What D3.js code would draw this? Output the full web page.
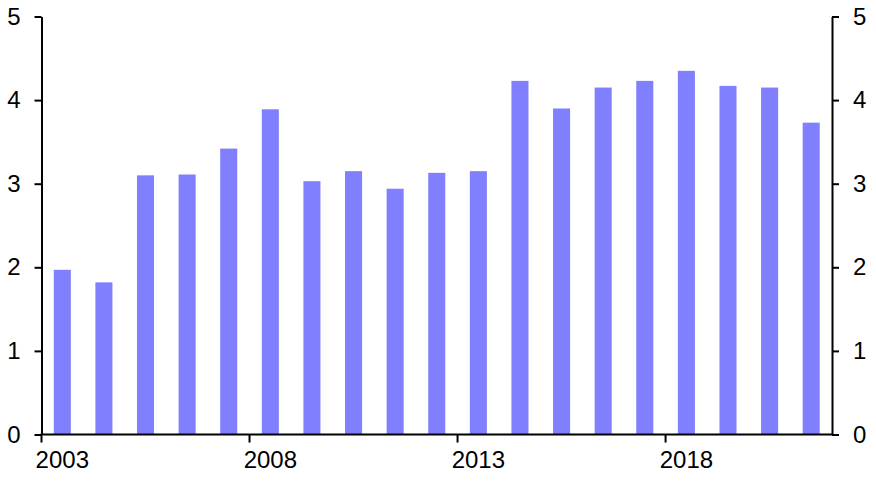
<!DOCTYPE html>
<html><head><meta charset="utf-8">
<script src="https://cdn.jsdelivr.net/npm/d3@7"></script>
<style>body{margin:0;background:#fff}svg text{font-family:"Liberation Sans",Arial,sans-serif}</style>
</head><body><svg id="c" width="876" height="486"></svg>
<script>
const years = [2003,2004,2005,2006,2007,2008,2009,2010,2011,2012,2013,2014,2015,2016,2017,2018,2019,2020,2021];
const values = [1.97,1.82,3.10,3.11,3.42,3.89,3.03,3.15,2.94,3.13,3.15,4.23,3.90,4.15,4.23,4.35,4.17,4.15,3.73];
const yTicks = [0,1,2,3,4,5];
const xLabels = [2003,2008,2013,2018];

(function(){
const svg = d3.select("#c");
const mLeft = 41.5, mRight = 832, mTop = 16.5, mBottom = 434.5;
const x = d3.scaleBand().domain(years).range([mLeft, mRight]).paddingInner(0.59).paddingOuter(0.295);
const xb = d3.scaleBand().domain(years).range([mLeft, mRight]).padding(0);
const y = d3.scaleLinear().domain([0,5]).range([mBottom, mTop]);

svg.append("g").selectAll("rect").data(years).join("rect")
  .attr("x", d => x(d)).attr("width", x.bandwidth())
  .attr("y", (d,i) => y(values[i])).attr("height", (d,i) => y(0) - y(values[i]))
  .attr("fill", "#8080ff");

const fs = "24px";
const fmt = d3.format("d");
const la = svg.append("g").attr("transform", `translate(${mLeft},0)`)
  .call(d3.axisLeft(y).tickValues(yTicks).tickFormat(fmt).tickSize(7).tickPadding(14).tickSizeOuter(0));
const ra = svg.append("g").attr("transform", `translate(${mRight},0)`)
  .call(d3.axisRight(y).tickValues(yTicks).tickFormat(fmt).tickSize(7).tickPadding(14).tickSizeOuter(0));
[la, ra].forEach(g => {
  g.selectAll("text").style("font-size", fs).attr("fill", "#000");
  g.select(".domain").attr("stroke-width", 2);
  g.selectAll(".tick line").attr("stroke-width", 2);
});
const xa = svg.append("g").attr("transform", `translate(0,${mBottom})`)
  .call(d3.axisBottom(xb).tickValues(xLabels).tickSize(0).tickPadding(16).tickSizeOuter(0));
xa.select(".domain").remove();
xa.selectAll("text").style("font-size", fs).attr("fill", "#000");
svg.append("line").attr("x1", mLeft - 1).attr("x2", mRight + 1).attr("y1", mBottom).attr("y2", mBottom)
  .attr("stroke", "#000").attr("stroke-width", 2);
svg.append("g").selectAll("line").data(xLabels).join("line")
  .attr("x1", d => xb(d)).attr("x2", d => xb(d)).attr("y1", mBottom).attr("y2", mBottom + 8)
  .attr("stroke", "#000").attr("stroke-width", 2);
})();
</script></body></html>
